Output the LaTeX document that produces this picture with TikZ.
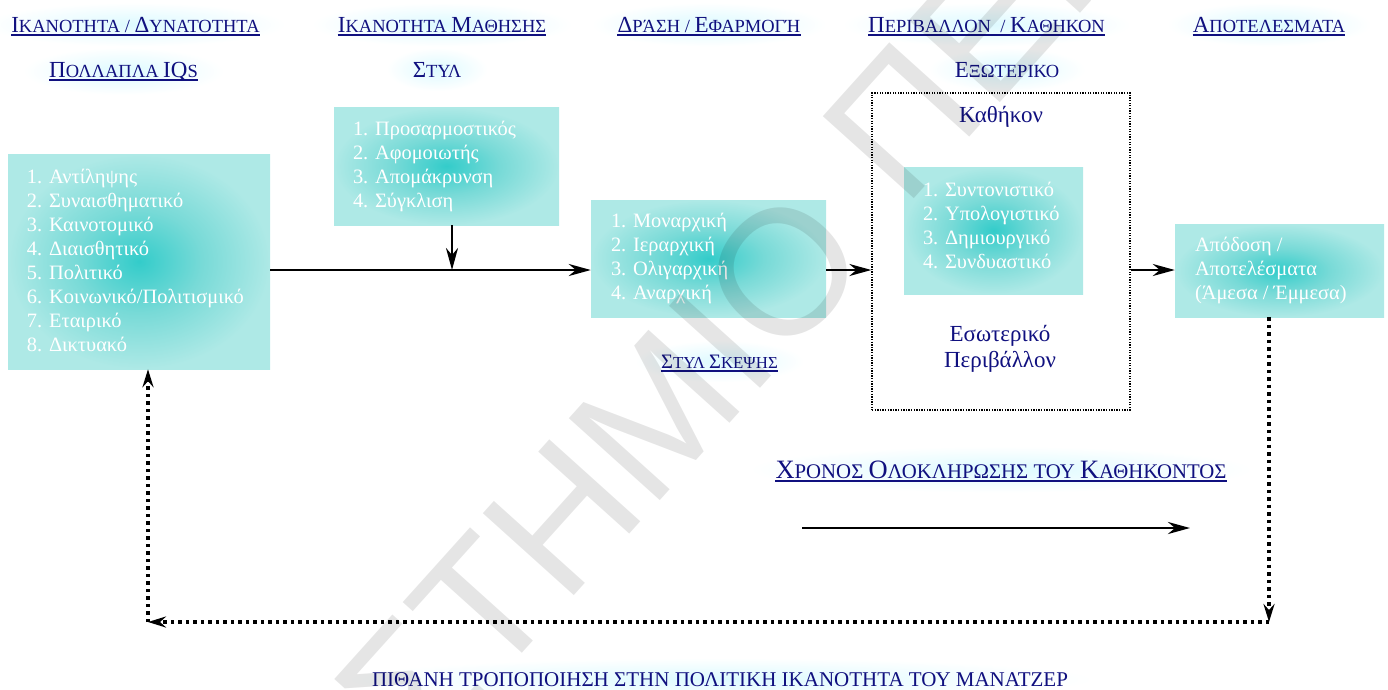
\documentclass[tikz,border=0pt]{standalone}
\usepackage{fontspec}
\setmainfont{Liberation Serif}
\newfontfamily\wmfont{Liberation Sans}
\usetikzlibrary{arrows.meta,calc,backgrounds}
\definecolor{tlight}{HTML}{AEE9E6}
\definecolor{tmid}{HTML}{78DAD7}
\definecolor{tdark}{HTML}{33CCCA}
\definecolor{ink}{HTML}{10107F}
\definecolor{halo}{HTML}{DDFAFF}
\pgfdeclareradialshading{tealglow}{\pgfpoint{0bp}{0bp}}{color(0bp)=(tdark); color(12bp)=(tmid); color(25bp)=(tlight); color(50bp)=(tlight)}
% initial capital of a small-caps heading, in its own size
\newcommand\Ini[2]{{\fontsize{#1}{#1}\selectfont #2}}

\begin{document}
\begin{tikzpicture}[x=1pt,y=-1pt,
  head/.style={inner sep=0, anchor=base, text=ink, font=\fontsize{18.5}{20}\selectfont},
  lbl/.style={inner sep=0, text=ink, font=\fontsize{23}{26}\selectfont},
  tbox/.style={shade, shading=tealglow, inner sep=0},
  btext/.style={inner sep=0, text=white, align=left, font=\fontsize{20.4}{24}\selectfont},
  frame/.style={draw, line width=1.3pt, dash pattern=on 1.3pt off 1.3pt, inner sep=0},
  arr/.style={line width=2.5pt, -{Stealth[length=22pt,width=12pt,inset=7pt]}},
  fb/.style={line width=3.5pt, dash pattern=on 3.5pt off 4pt, -{Stealth[length=18pt,width=11pt,inset=6pt]}},
  uline/.style={ink, line width=1.4pt},
  glow/.style={inner color=halo, outer color=white},
  wm/.style={inner sep=0, text=black, text opacity=0.1, font=\wmfont\fontsize{178}{178}\selectfont}
]
\useasboundingbox (0,0) rectangle (1388,689);

% column headings
\node[head] (h1) at (135.5,32) {\Ini{23}{Ι}ΚΑΝΟΤΗΤΑ / \Ini{23}{Δ}ΥΝΑΤΟΤΗΤΑ};
\node[head] (h2) at (442,32) {\Ini{23}{Ι}ΚΑΝΟΤΗΤΑ \Ini{23}{Μ}ΑΘΗΣΗΣ};
\node[head] (h3) at (709,32) {\Ini{23}{Δ}ΡΆΣΗ / \Ini{23}{Ε}ΦΑΡΜΟΓΉ};
\node[head] (h4) at (986.5,32) {\Ini{23}{Π}ΕΡΙΒΑΛΛΟΝ \ / \Ini{23}{Κ}ΑΘΗΚΟΝ};
\node[head] (h5) at (1269,32) {\Ini{23}{Α}ΠΟΤΕΛΕΣΜΑΤΑ};
\node[head] (s1) at (123.5,77) {\Ini{23}{Π}ΟΛΛΑΠΛΑ \Ini{23}{IQ}S};
\node[head] (s2) at (437,77) {\Ini{23}{Σ}ΤΥΛ};
\node[head] (s3) at (1007,77) {\Ini{23}{Ε}ΞΩΤΕΡΙΚΟ};
\node[head, font=\fontsize{16.8}{18}\selectfont] (s4) at (719.5,368) {\Ini{20.5}{Σ}ΤΥΛ \Ini{20.5}{Σ}ΚΕΨΗΣ};
\node[head, font=\fontsize{20.8}{22}\selectfont] (tm) at (1001,478) {\Ini{26.5}{Χ}ΡΟΝΟΣ \Ini{26.5}{Ο}ΛΟΚΛΗΡΩΣΗΣ ΤΟΥ \Ini{26.5}{Κ}ΑΘΗΚΟΝΤΟΣ};
\node[head, font=\fontsize{21}{22}\selectfont] (pb) at (720,686) {ΠΙΘΑΝΗ ΤΡΟΠΟΠΟΙΗΣΗ ΣΤΗΝ ΠΟΛΙΤΙΚΗ ΙΚΑΝΟΤΗΤΑ ΤΟΥ ΜΑΝΑΤΖΕΡ};

% soft halo behind the headings
\begin{scope}[on background layer]
  \foreach \n in {h1,h2,h3,h4,h5,s1,s2,s3,s4,tm,pb}
    \shade[glow] ($(\n.south west)+(-26,14)$) rectangle ($(\n.north east)+(26,-14)$);
\end{scope}
% underlined headings
\foreach \n in {h1,h2,h3,h4,h5,s1,s4,tm}
  \draw[uline] ($(\n.base west)+(0,3)$) -- ($(\n.base east)+(0,3)$);

% teal boxes
\node[tbox, minimum width=262, minimum height=215] (b1) at (139,261.5) {};
\node[btext, anchor=west] (b1t) at ($(b1.west)+(19,-1)$) {1. Αντίληψης\\2. Συναισθηματικό\\3. Καινοτομικό\\4. Διαισθητικό\\5. Πολιτικό\\6. Κοινωνικό/Πολιτισμικό\\7. Εταιρικό\\8. Δικτυακό};

\node[tbox, minimum width=225, minimum height=118] (b2) at (446.5,166) {};
\node[btext, anchor=west] (b2t) at ($(b2.west)+(19,0)$) {1. Προσαρμοστικός\\2. Αφομοιωτής\\3. Απομάκρυνση\\4. Σύγκλιση};

\node[tbox, minimum width=235, minimum height=117] (b3) at (708.5,258.5) {};
\node[btext, anchor=west] (b3t) at ($(b3.west)+(20,0)$) {1. Μοναρχική\\2. Ιεραρχική\\3. Ολιγαρχική\\4. Αναρχική};

% environment / task frame
\node[frame, minimum width=258, minimum height=317] (env) at (1001,251.5) {};
\node[lbl] (kath) at (1001,117) {Καθήκον};
\node[tbox, minimum width=179, minimum height=127] (b4) at (993.5,230.5) {};
\node[btext, anchor=west] (b4t) at ($(b4.west)+(19,-5)$) {1. Συντονιστικό\\2. Υπολογιστικό\\3. Δημιουργικό\\4. Συνδυαστικό};
\node[lbl, align=center] (esw) at (1000,349) {Εσωτερικό\\Περιβάλλον};

\node[tbox, minimum width=209, minimum height=93] (b5) at (1279.5,270.5) {};
\node[btext, anchor=west] (b5t) at ($(b5.west)+(20,0)$) {Απόδοση /\\Αποτελέσματα\\(Άμεσα / Έμμεσα)};

% main flow
\coordinate (j) at (452,270);
\draw[arr] (b1.east |- j) -- (b3.west |- j);
\draw[arr] (j |- b2.south) -- (j);
\draw[arr] (b3.east |- j) -- (env.west |- j);
\draw[arr] (env.east |- j) -- (b5.west |- j);

% time axis
\coordinate (ta) at (802,528);
\coordinate (tb) at (1190,528);
\draw[arr, line width=2.8pt] (ta) -- (tb);

% feedback loop
\coordinate (fr) at (1269,622);
\coordinate (fl) at (148,622);
\draw[fb] (fr |- b5.south) -- (fr);
\draw[fb] (fr) -- (fl);
\draw[fb] (fl) -- (fl |- b1.south);

% watermark
\begin{scope}
  \clip (0,0) rectangle (1388,689);
  \node[wm, anchor=east, rotate=48] (wm1) at (830,220) {ΠΑΝΕΠΙΣΤΗΜΙΟ};
  \node[wm, anchor=west, rotate=48] (wm2) at (858,168) {ΠΕΙΡΑΙΩΣ};
\end{scope}
\end{tikzpicture}
\end{document}
